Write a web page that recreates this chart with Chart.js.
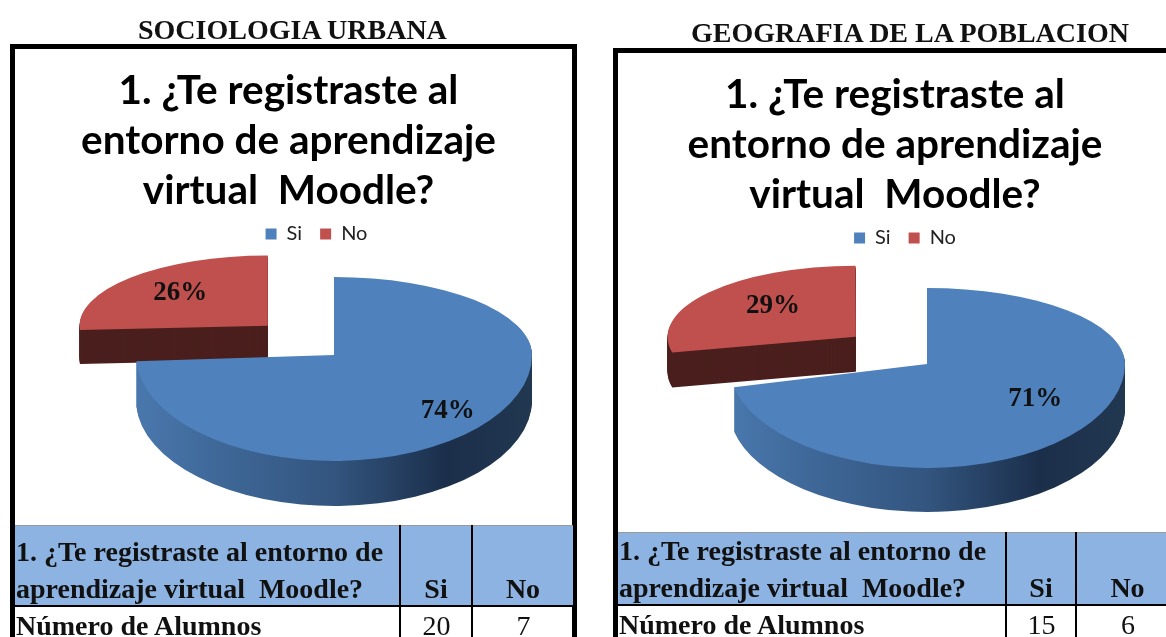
<!DOCTYPE html>
<html><head><meta charset="utf-8">
<script src="https://cdn.jsdelivr.net/npm/chart.js@4"></script>
<style>
html,body{margin:0;padding:0;background:#fff;width:1166px;height:637px;overflow:hidden}
#page{position:absolute;left:0;top:0;width:1166px;height:637px;overflow:hidden;filter:blur(0.5px)}
.heading{position:absolute;font:bold 28px "Liberation Serif",serif;color:#111;white-space:nowrap;text-align:center;line-height:30px}
.frame{position:absolute;border:5px solid #000;border-bottom:none;box-sizing:border-box;background:#fff}
canvas{position:absolute}
table{position:absolute;border-collapse:collapse;table-layout:fixed;font:bold 28px "Liberation Serif",serif;color:#111}
th,td{padding:0;white-space:nowrap}
th{background:#8db3e2;vertical-align:bottom;font-weight:bold;border-top:1px solid #999}
th.q{text-align:left;white-space:pre-wrap;padding-left:1px}
th.q span{display:block;height:60px;line-height:37px;position:relative;top:-11.5px}
th.c,td.c{text-align:center;border-left:2px solid #000}
th.c{line-height:32px}
td.c{font-weight:normal}
td{border-top:2px solid #000;line-height:38px;padding-left:1px;vertical-align:top}
</style></head><body><div id="page">
<div class="heading" id="h1" style="left:138px;top:15px;width:308px"></div>
<div class="heading" id="h2" style="left:691px;top:18px;width:435px"></div>
<div class="frame" style="left:10px;top:44px;width:567px;height:600px"></div>
<div class="frame" style="left:613px;top:48px;width:570px;height:600px"></div>
<canvas id="c1" width="549" height="800" style="left:14px;top:49px"></canvas>
<canvas id="c2" width="554" height="800" style="left:618px;top:53px"></canvas>
<table id="t1" style="left:15px;top:525px;width:558px"></table>
<table id="t2" style="left:618px;top:532px;width:560px"></table>
</div>
<script>
const headings = ['SOCIOLOGIA URBANA', 'GEOGRAFIA DE LA POBLACION'];
const categories = ['Si', 'No'];
const sociologiaValues = [20, 7];
const geografiaValues = [15, 6];
const titleLines = ['1. ¿Te registraste al', 'entorno de aprendizaje', 'virtual  Moodle?'];
const tableQuestion = '1. ¿Te registraste al entorno de\naprendizaje virtual  Moodle?';
const rowLabel = 'Número de Alumnos';

const tilted = {
  id: 'tilted',
  afterLayout(chart, args, o) {
    chart.legend.left += o.legendShift; chart.legend.right += o.legendShift;
  },
  beforeDatasetsDraw(chart, args, o) {
    const ctx = chart.ctx, W = chart.width, H = chart.height;
    const [si, no] = chart.getDatasetMeta(0).data;
    const paint = (arc, fill, draw) => {
      const saved = arc.options;
      arc.options = {backgroundColor: fill, borderColor: fill, borderWidth: 0, offset: saved.offset,
        spacing: 0, circular: true, borderRadius: 0, borderAlign: 'center'};
      draw(); arc.options = saved;
    };
    const mid = (no.startAngle + no.endAngle) / 2, d = no.options.offset / 4;
    const px = no.x + Math.cos(mid) * d, py = no.y + Math.sin(mid) * d;
    const noLayer = (dy, fill) => paint(no, fill, () => {
      ctx.save();
      ctx.translate(o.apexX + (px - no.x), o.apexY + (py - no.y) * o.noY - o.lift + dy);
      ctx.scale(o.noX, o.noY); ctx.translate(-px, -py);
      no.draw(ctx); ctx.restore();
    });
    for (let k = o.noDepth; k >= 1; k--) noLayer(k, '#4a1f1d');
    noLayer(0, '#c0504d');
    const siLayer = (dy, fill) => paint(si, fill, () => {
      [[0, o.apexY + dy, o.upper], [o.apexY + dy, H, o.lower]].forEach(([y0, y1, s]) => {
        ctx.save(); ctx.beginPath(); ctx.rect(0, y0, W, y1 - y0); ctx.clip();
        ctx.translate(o.apexX, o.apexY + dy); ctx.scale(1, s); ctx.translate(-si.x, -si.y);
        si.draw(ctx); ctx.restore();
      });
    });
    const g = ctx.createLinearGradient(si.x - 200, 0, si.x + 200, 0);
    g.addColorStop(0, '#4a78ae'); g.addColorStop(0.18, '#406a9b'); g.addColorStop(0.5, '#33557f');
    g.addColorStop(0.78, '#1b2f4b'); g.addColorStop(1, '#223750');
    for (let k = o.siDepth; k >= 1; k--) siLayer(k, g);
    siLayer(0, '#4f81bd');
    const total = si.circumference + no.circumference;
    ctx.save();
    ctx.font = 'bold 27px "Liberation Serif", serif'; ctx.fillStyle = '#111';
    ctx.textAlign = 'center'; ctx.textBaseline = 'middle';
    const siMid = (si.startAngle + si.endAngle) / 2;
    ctx.fillText(Math.round(si.circumference / total * 100) + '%',
      o.apexX + Math.cos(siMid) * si.outerRadius * o.labelR[0],
      o.apexY + Math.sin(siMid) * si.outerRadius * o.labelR[0] * o.lower - o.labelLift[0]);
    ctx.fillText(Math.round(no.circumference / total * 100) + '%',
      o.apexX + (px - no.x) + Math.cos(mid) * no.outerRadius * o.noX * o.labelR[1],
      o.apexY + (py - no.y) * o.noY - o.lift + Math.sin(mid) * no.outerRadius * o.noY * o.labelR[1] - o.labelLift[1]);
    ctx.restore();
    return false;
  }
};

function pieChart(id, values, tiltOptions) {
  return new Chart(document.getElementById(id), {
    type: 'pie',
    plugins: [tilted],
    data: {labels: categories, datasets: [{data: values,
      backgroundColor: ['#4f81bd', '#c0504d'], borderWidth: 0, offset: [0, 364]}]},
    options: {
      responsive: false, animation: false, radius: 198, rotation: 0,
      layout: {padding: 0},
      plugins: {
        tooltip: {enabled: false},
        title: {display: true, text: titleLines, color: '#000',
          font: {family: 'Lato', weight: 'bold', size: 40.5, lineHeight: 50/40.5},
          padding: {top: 17, bottom: -10}},
        legend: {position: 'top', labels: {boxWidth: 11, boxHeight: 11, padding: 18, color: '#222',
          font: {family: 'Lato', size: 20}}},
        tilted: tiltOptions
      }
    }
  });
}

pieChart('c1', sociologiaValues, {apexX: 320, apexY: 306, upper: 0.394, lower: 0.535, siDepth: 45,
  noX: 0.95, noY: 0.355, lift: 7, noDepth: 34, legendShift: 28,
  labelR: [0.79, 0.64], labelLift: [1, 2]});
pieChart('c2', geografiaValues, {apexX: 309, apexY: 311, upper: 0.384, lower: 0.525, siDepth: 44,
  noX: 0.94, noY: 0.355, lift: 7, noDepth: 35, legendShift: 10,
  labelR: [0.70, 0.57], labelLift: [10, 6]});

function fillTable(id, values, cols, headH, rowH) {
  document.getElementById(id).innerHTML = `<colgroup><col style="width:${cols[0]}px"><col style="width:${cols[1]}px"><col style="width:${cols[2]}px"></colgroup>
  <tr style="height:${headH}px"><th class="q"><span>${tableQuestion}</span></th><th class="c">${categories[0]}</th><th class="c">${categories[1]}</th></tr>
  <tr style="height:${rowH}px"><td>${rowLabel}</td><td class="c">${values[0]}</td><td class="c">${values[1]}</td></tr>`;
}
document.getElementById('h1').textContent = headings[0];
document.getElementById('h2').textContent = headings[1];
fillTable('t1', sociologiaValues, [385, 72, 101], 80, 38);
fillTable('t2', geografiaValues, [388, 70, 102], 72, 38);
</script></body></html>
